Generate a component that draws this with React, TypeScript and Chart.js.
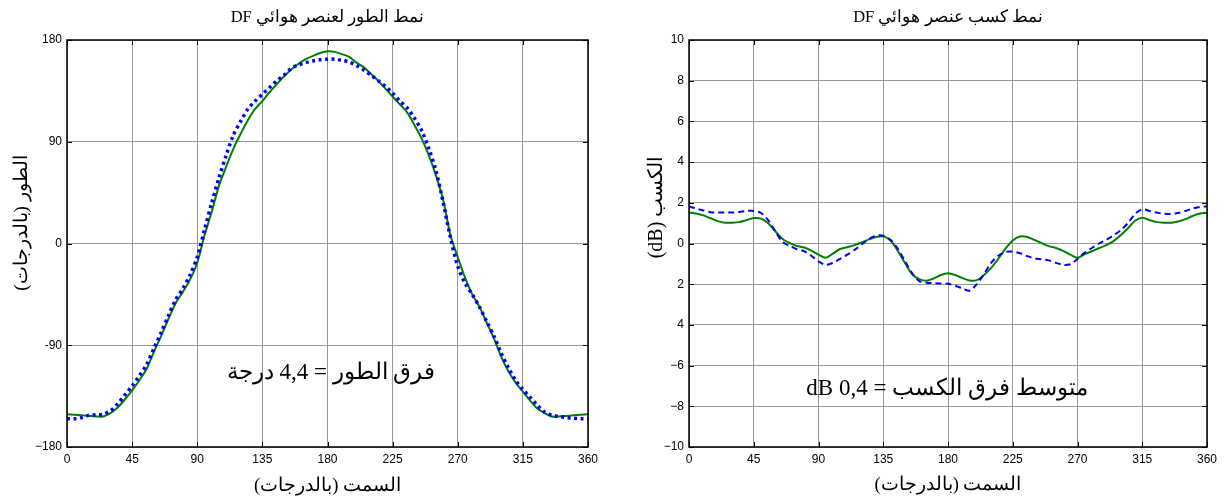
import React, { useEffect, useRef } from "react";
import { Chart, registerables } from "chart.js";

Chart.register(...registerables);

// Azimuth samples (degrees)
const azimuthDeg = [
  0, 5, 10, 15, 20, 25, 30, 35, 40, 45, 50, 55, 60, 65, 70, 75, 80, 85, 90, 95,
  100, 105, 110, 115, 120, 125, 130, 135, 140, 145, 150, 155, 160, 165, 170, 175,
  180, 185, 190, 195, 200, 205, 210, 215, 220, 225, 230, 235, 240, 245, 250, 255,
  260, 265, 270, 275, 280, 285, 290, 295, 300, 305, 310, 315, 320, 325, 330, 335,
  340, 345, 350, 355, 360,
];

// Phase pattern (degrees)
const phaseGreen = [
  -151, -151.5, -152, -152.5, -153, -153, -150, -145, -138, -130, -121, -111, -96, -82, -67, -53, -43, -32, -17, 7,
  28, 51, 68, 84, 97, 109, 119, 126, 134, 141, 148, 154, 159, 163, 166, 168.5,
  170, 169.5, 167.5, 165, 160, 156, 150, 144, 137, 130, 123, 116, 105, 93, 78, 60,
  38, 7, -12, -30, -45, -56, -70, -84, -100, -113, -123, -131, -139, -146, -150, -153,
  -153, -152.5, -152, -151.5, -151,
];
const phaseBlue = [
  -155, -155, -154, -152, -151.5, -151, -148, -142, -134, -126, -117, -107, -93, -79, -64, -50, -40, -28, -12, 12,
  36, 58, 78, 96, 108, 119, 126, 132, 138, 144, 149, 155, 158, 160, 161.5, 162.5,
  163, 163, 162, 160.5, 157.5, 153.5, 149, 144, 139, 133, 126, 120, 111, 100, 84, 64,
  36, 5, -20, -35, -45, -56, -69, -82, -97, -110, -121, -129, -136, -143, -149, -152,
  -153, -154, -154.5, -155, -155,
];

// Gain pattern (dB)
const gainGreen = [
  1.53, 1.47, 1.38, 1.24, 1.1, 1.02, 1.02, 1.05, 1.15, 1.25, 1.22, 1.0, 0.6, 0.22, 0.02, -0.12, -0.2, -0.35, -0.55, -0.7,
  -0.5, -0.27, -0.18, -0.08, 0.05, 0.2, 0.32, 0.35, 0.15, -0.35, -0.95, -1.5, -1.75, -1.83, -1.72, -1.55,
  -1.46, -1.55, -1.7, -1.82, -1.8, -1.55, -1.2, -0.75, -0.25, 0.15, 0.34, 0.32, 0.18, 0.02, -0.13, -0.22,
  -0.36, -0.55, -0.7, -0.52, -0.38, -0.22, -0.08, 0.12, 0.4, 0.75, 1.12, 1.27, 1.15, 1.05, 1.02, 1.02,
  1.08, 1.2, 1.35, 1.47, 1.5,
];
const gainBlue = [
  1.82, 1.72, 1.62, 1.54, 1.52, 1.52, 1.52, 1.55, 1.6, 1.6, 1.5, 1.15, 0.6, 0.08, -0.12, -0.28, -0.38, -0.6, -0.88, -1.05,
  -0.95, -0.75, -0.55, -0.32, -0.05, 0.22, 0.38, 0.38, 0.18, -0.25, -0.85, -1.45, -1.85, -1.93, -1.95, -1.97,
  -1.98, -2.08, -2.2, -2.32, -2.0, -1.5, -0.95, -0.6, -0.42, -0.4, -0.48, -0.62, -0.73, -0.77, -0.83, -0.95,
  -1.05, -1.02, -0.76, -0.45, -0.22, 0.0, 0.18, 0.4, 0.65, 1.0, 1.45, 1.68, 1.6, 1.52, 1.46, 1.45,
  1.5, 1.6, 1.72, 1.8, 1.82,
];

// Tick labels (ascending value order)
const phaseTickLabels = ["\u2212180", "-90", "0", "90", "180"];
const gainTickLabels = ["\u221210", "\u22128", "\u22126", "4", "2", "0", "2", "4", "6", "8", "10"];

const frameText = {
  id: "frameText",
  afterDraw(chart: any, _args: any, o: any) {
    const { ctx, chartArea: a, scales } = chart;
    const xs = scales.x;
    const ys = scales.y;
    ctx.save();
    ctx.strokeStyle = "#000";
    ctx.lineWidth = 1;
    ctx.beginPath();
    xs.ticks.forEach((t: any) => {
      const px = Math.round(xs.getPixelForValue(t.value)) + 0.5;
      ctx.moveTo(px, a.bottom);
      ctx.lineTo(px, a.bottom - 5);
      ctx.moveTo(px, a.top);
      ctx.lineTo(px, a.top + 5);
    });
    ys.ticks.forEach((t: any) => {
      const py = Math.round(ys.getPixelForValue(t.value)) + 0.5;
      ctx.moveTo(a.left, py);
      ctx.lineTo(a.left + 5, py);
      ctx.moveTo(a.right, py);
      ctx.lineTo(a.right - 5, py);
    });
    ctx.stroke();
    ctx.lineWidth = 1.5;
    ctx.strokeRect(a.left, a.top, a.right - a.left, a.bottom - a.top);

    ctx.fillStyle = "#000";
    ctx.direction = "rtl";
    ctx.textAlign = "center";
    ctx.textBaseline = "middle";
    const serif = "'Liberation Serif', 'DejaVu Serif', serif";
    const cx = (a.left + a.right) / 2;
    ctx.font = `16.5px ${serif}`;
    ctx.fillText(o.title, cx, o.titleY);
    ctx.font = `18.5px ${serif}`;
    ctx.fillText(o.xTitle, cx, o.xTitleY);
    ctx.font = `23px ${serif}`;
    ctx.fillText(o.note, o.noteX, o.noteY);
    ctx.save();
    ctx.translate(o.yTitleX, o.yTitleY);
    ctx.rotate(-Math.PI / 2);
    ctx.font = `${o.yTitleSize}px ${serif}`;
    ctx.fillText(o.yTitle, 0, 0);
    ctx.restore();
    ctx.restore();
  },
};

function makeConfig(p: any): any {
  const tickFont = { family: "'Liberation Sans', Arial, sans-serif", size: 12 };
  return {
    type: "line",
    data: {
      datasets: [
        {
          data: azimuthDeg.map((x, i) => ({ x, y: p.blue[i] })),
          borderColor: "rgb(0,0,255)",
          borderWidth: p.blueWidth,
          borderDash: p.blueDash,
          borderCapStyle: "butt",
          pointRadius: 0,
          tension: 0.3,
          fill: false,
        },
        {
          data: azimuthDeg.map((x, i) => ({ x, y: p.green[i] })),
          borderColor: "rgb(0,128,0)",
          borderWidth: 2,
          pointRadius: 0,
          tension: 0.3,
          fill: false,
        },
      ],
    },
    options: {
      animation: false,
      responsive: false,
      events: [],
      layout: { padding: { left: 0, right: p.padRight, top: 40, bottom: 0 } },
      plugins: {
        legend: { display: false },
        tooltip: { enabled: false },
        frameText: p.text,
      },
      scales: {
        x: {
          type: "linear",
          min: 0,
          max: 360,
          ticks: { stepSize: 45, font: tickFont, color: "#000", padding: 5, maxRotation: 0, autoSkip: false },
          grid: { color: "#999", lineWidth: 1, drawTicks: false },
          border: { display: false },
          afterFit: (s: any) => {
            s.height = 55;
          },
        },
        y: {
          type: "linear",
          min: p.yMin,
          max: p.yMax,
          ticks: {
            stepSize: p.yStep,
            font: tickFont,
            color: "#000",
            padding: 5,
            autoSkip: false,
            callback: (_v: any, i: number) => p.yLabels[i],
          },
          grid: { color: "#999", lineWidth: 1, drawTicks: false },
          border: { display: false },
          afterFit: (s: any) => {
            s.width = p.yWidth;
          },
        },
      },
    },
    plugins: [frameText],
  };
}

export default function App() {
  const leftRef = useRef<HTMLCanvasElement>(null);
  const rightRef = useRef<HTMLCanvasElement>(null);

  useEffect(() => {
    const c1 = new Chart(
      leftRef.current!,
      makeConfig({
        green: phaseGreen,
        blue: phaseBlue,
        blueWidth: 3.5,
        blueDash: [3, 3.5],
        yMin: -180,
        yMax: 180,
        yStep: 90,
        yLabels: phaseTickLabels,
        yWidth: 67,
        padRight: 25,
        text: {
          title: "نمط الطور لعنصر هوائي DF",
          titleY: 18,
          xTitle: "السمت (بالدرجات)",
          xTitleY: 486,
          yTitle: "الطور (بالدرجات)",
          yTitleX: 22,
          yTitleY: 223,
          yTitleSize: 19,
          note: "فرق الطور = 4,4 درجة",
          noteX: 331,
          noteY: 373,
        },
      })
    );
    const c2 = new Chart(
      rightRef.current!,
      makeConfig({
        green: gainGreen,
        blue: gainBlue,
        blueWidth: 2,
        blueDash: [6, 4],
        yMin: -10,
        yMax: 10,
        yStep: 2,
        yLabels: gainTickLabels,
        yWidth: 76,
        padRight: 19,
        text: {
          title: "نمط كسب عنصر هوائي DF",
          titleY: 18,
          xTitle: "السمت (بالدرجات)",
          xTitleY: 485,
          yTitle: "الكسب (dB)",
          yTitleX: 44,
          yTitleY: 207,
          yTitleSize: 20,
          note: "متوسط فرق الكسب = 0,4 dB",
          noteX: 334,
          noteY: 389,
        },
      })
    );
    return () => {
      c1.destroy();
      c2.destroy();
    };
  }, []);

  return (
    <div style={{ position: "fixed", left: 0, top: 0, width: 1226, height: 502, background: "#fff" }}>
      <canvas
        ref={leftRef}
        width={613}
        height={502}
        style={{ position: "absolute", left: 0, top: 0, width: 613, height: 502 }}
      />
      <canvas
        ref={rightRef}
        width={613}
        height={502}
        style={{ position: "absolute", left: 613, top: 0, width: 613, height: 502 }}
      />
    </div>
  );
}
